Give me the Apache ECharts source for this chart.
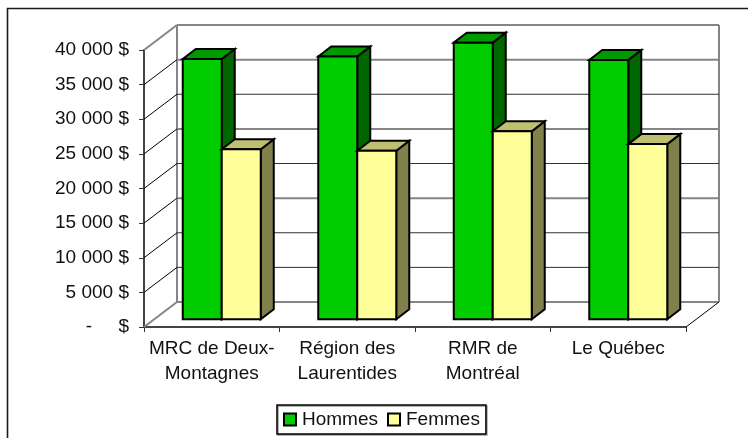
<!DOCTYPE html>
<html>
<head>
<meta charset="utf-8">
<style>html,body{margin:0;padding:0;background:#fff}#main{width:748px;height:438px}</style>
<script src="https://cdn.jsdelivr.net/npm/echarts@6/dist/echarts.min.js"></script>
</head>
<body>
<div id="main"></div>
<script>
var categories = ["MRC de Deux-\nMontagnes", "Région des\nLaurentides", "RMR de\nMontréal", "Le Québec"];
var hommes = [37600, 37950, 39950, 37450];
var femmes = [24550, 24350, 27150, 25300];
var wallTicks = [0, 5000, 10000, 15000, 20000, 25000, 30000, 35000, 40000];
// back wall lines that come out gray and thick in the original
var grayTicks = [0, 15000, 25000, 35000, 40000];

var myChart = echarts.init(document.getElementById("main"));

// depth of the 3D box and of the bars, in pixels
var wallDx = 33, wallDy = -25;
var barShiftX = 10, barShiftY = -7.7;
var barDx = 13, barDy = -10;
var barWidth = 39;

function line(x1, y1, x2, y2, color, width) {
  return {
    type: "line",
    shape: { x1: x1, y1: y1, x2: x2, y2: y2 },
    style: { stroke: color, lineWidth: width }
  };
}

function renderWall(params, api) {
  var box = params.coordSys;
  var v = api.value(0);
  var y = api.coord([0, v])[1];
  var left = box.x;
  var right = box.x + box.width;
  var edge = v === 0 || v === 40000;
  var gray = grayTicks.indexOf(v) >= 0;
  var kids = [
    line(left + wallDx, y + wallDy, right + wallDx, y + wallDy, gray ? "#858585" : "#333", gray ? 2 : 1),
    line(left, y, left + wallDx, y + wallDy, edge ? "#858585" : "#000", edge ? 2 : 1)
  ];
  if (v === 0) {
    kids.push(line(left + wallDx, box.y + wallDy, left + wallDx, y + wallDy, "#858585", 2));
    kids.push(line(right + wallDx, box.y + wallDy, right + wallDx, y + wallDy, "#858585", 2));
    kids.push(line(right, y, right + wallDx, y + wallDy, "#000", 1));
  }
  return { type: "group", children: kids };
}

function renderBar(side, front, top, dark) {
  return function (params, api) {
    var c = api.coord([api.value(0), api.value(1)]);
    var y0 = api.coord([api.value(0), 0])[1] + barShiftY;
    var yt = c[1] + barShiftY;
    var xl = c[0] + barShiftX + (side < 0 ? -barWidth : 0);
    var xr = xl + barWidth;
    function poly(points, fill) {
      return {
        type: "polygon",
        shape: { points: points },
        style: { fill: fill, stroke: "#000", lineWidth: 2, lineJoin: "miter" }
      };
    }
    return {
      type: "group",
      children: [
        poly([[xr, y0], [xr + barDx, y0 + barDy], [xr + barDx, yt + barDy], [xr, yt]], dark),
        poly([[xl, yt], [xl + barDx, yt + barDy], [xr + barDx, yt + barDy], [xr, yt]], top),
        poly([[xl, y0], [xl, yt], [xr, yt], [xr, y0]], front)
      ]
    };
  };
}

var option = {
  animation: false,
  backgroundColor: "#fff",
  textStyle: { fontFamily: "Liberation Sans, Arial, sans-serif" },
  graphic: [{
    type: "polyline",
    silent: true,
    shape: { points: [[7.5, 438], [7.5, 8.5], [748, 8.5]] },
    style: { fill: null, stroke: "#1a1a1a", lineWidth: 1.6 }
  }],
  legend: {
    left: 277,
    top: 405,
    orient: "horizontal",
    data: ["Hommes", "Femmes"],
    icon: "rect",
    itemWidth: 12,
    itemHeight: 12,
    itemGap: 9,
    padding: [5, 6, 5, 6],
    borderColor: "#000",
    borderWidth: 1.5,
    backgroundColor: "#fff",
    shadowColor: "#999",
    shadowOffsetX: 1,
    shadowOffsetY: 1,
    textStyle: { fontSize: 19, color: "#111", padding: [2, 0, 0, 1] }
  },
  grid: { left: 144, right: 62, top: 50, bottom: 111 },
  xAxis: {
    type: "category",
    data: categories,
    boundaryGap: true,
    axisLine: { show: true, lineStyle: { color: "#444", width: 2 } },
    axisTick: { show: true, alignWithLabel: false, length: 5, lineStyle: { color: "#333", width: 1 } },
    axisLabel: { fontSize: 19, color: "#111", margin: 9, lineHeight: 25, interval: 0 }
  },
  yAxis: {
    type: "value",
    min: 0,
    max: 40000,
    interval: 5000,
    axisLine: { show: true, lineStyle: { color: "#444", width: 2 } },
    axisTick: { show: true, length: 5, lineStyle: { color: "#333", width: 1 } },
    splitLine: { show: false },
    axisLabel: {
      fontSize: 19,
      color: "#111",
      margin: 15,
      padding: [3, 0, 0, 0],
      formatter: function (v) {
        if (v === 0) return "-     $";
        return String(v).replace(/(\d)(\d{3})$/, "$1 $2") + " $";
      }
    }
  },
  series: [
    {
      name: "wall",
      type: "custom",
      renderItem: renderWall,
      data: wallTicks.map(function (v) { return [v]; }),
      encode: { y: 0 },
      clip: false,
      silent: true,
      z: 1
    },
    {
      name: "Hommes",
      type: "custom",
      renderItem: renderBar(-1, "#00CC00", "#009900", "#006600"),
      data: hommes.map(function (v, i) { return [i, v]; }),
      encode: { x: 0, y: 1 },
      itemStyle: { color: "#00CC00", borderColor: "#000", borderWidth: 2 },
      clip: false,
      z: 2
    },
    {
      name: "Femmes",
      type: "custom",
      renderItem: renderBar(1, "#FFFF99", "#BFBF73", "#80804D"),
      data: femmes.map(function (v, i) { return [i, v]; }),
      encode: { x: 0, y: 1 },
      itemStyle: { color: "#FFFF99", borderColor: "#000", borderWidth: 2 },
      clip: false,
      z: 3
    }
  ]
};

myChart.setOption(option);
</script>
</body>
</html>
